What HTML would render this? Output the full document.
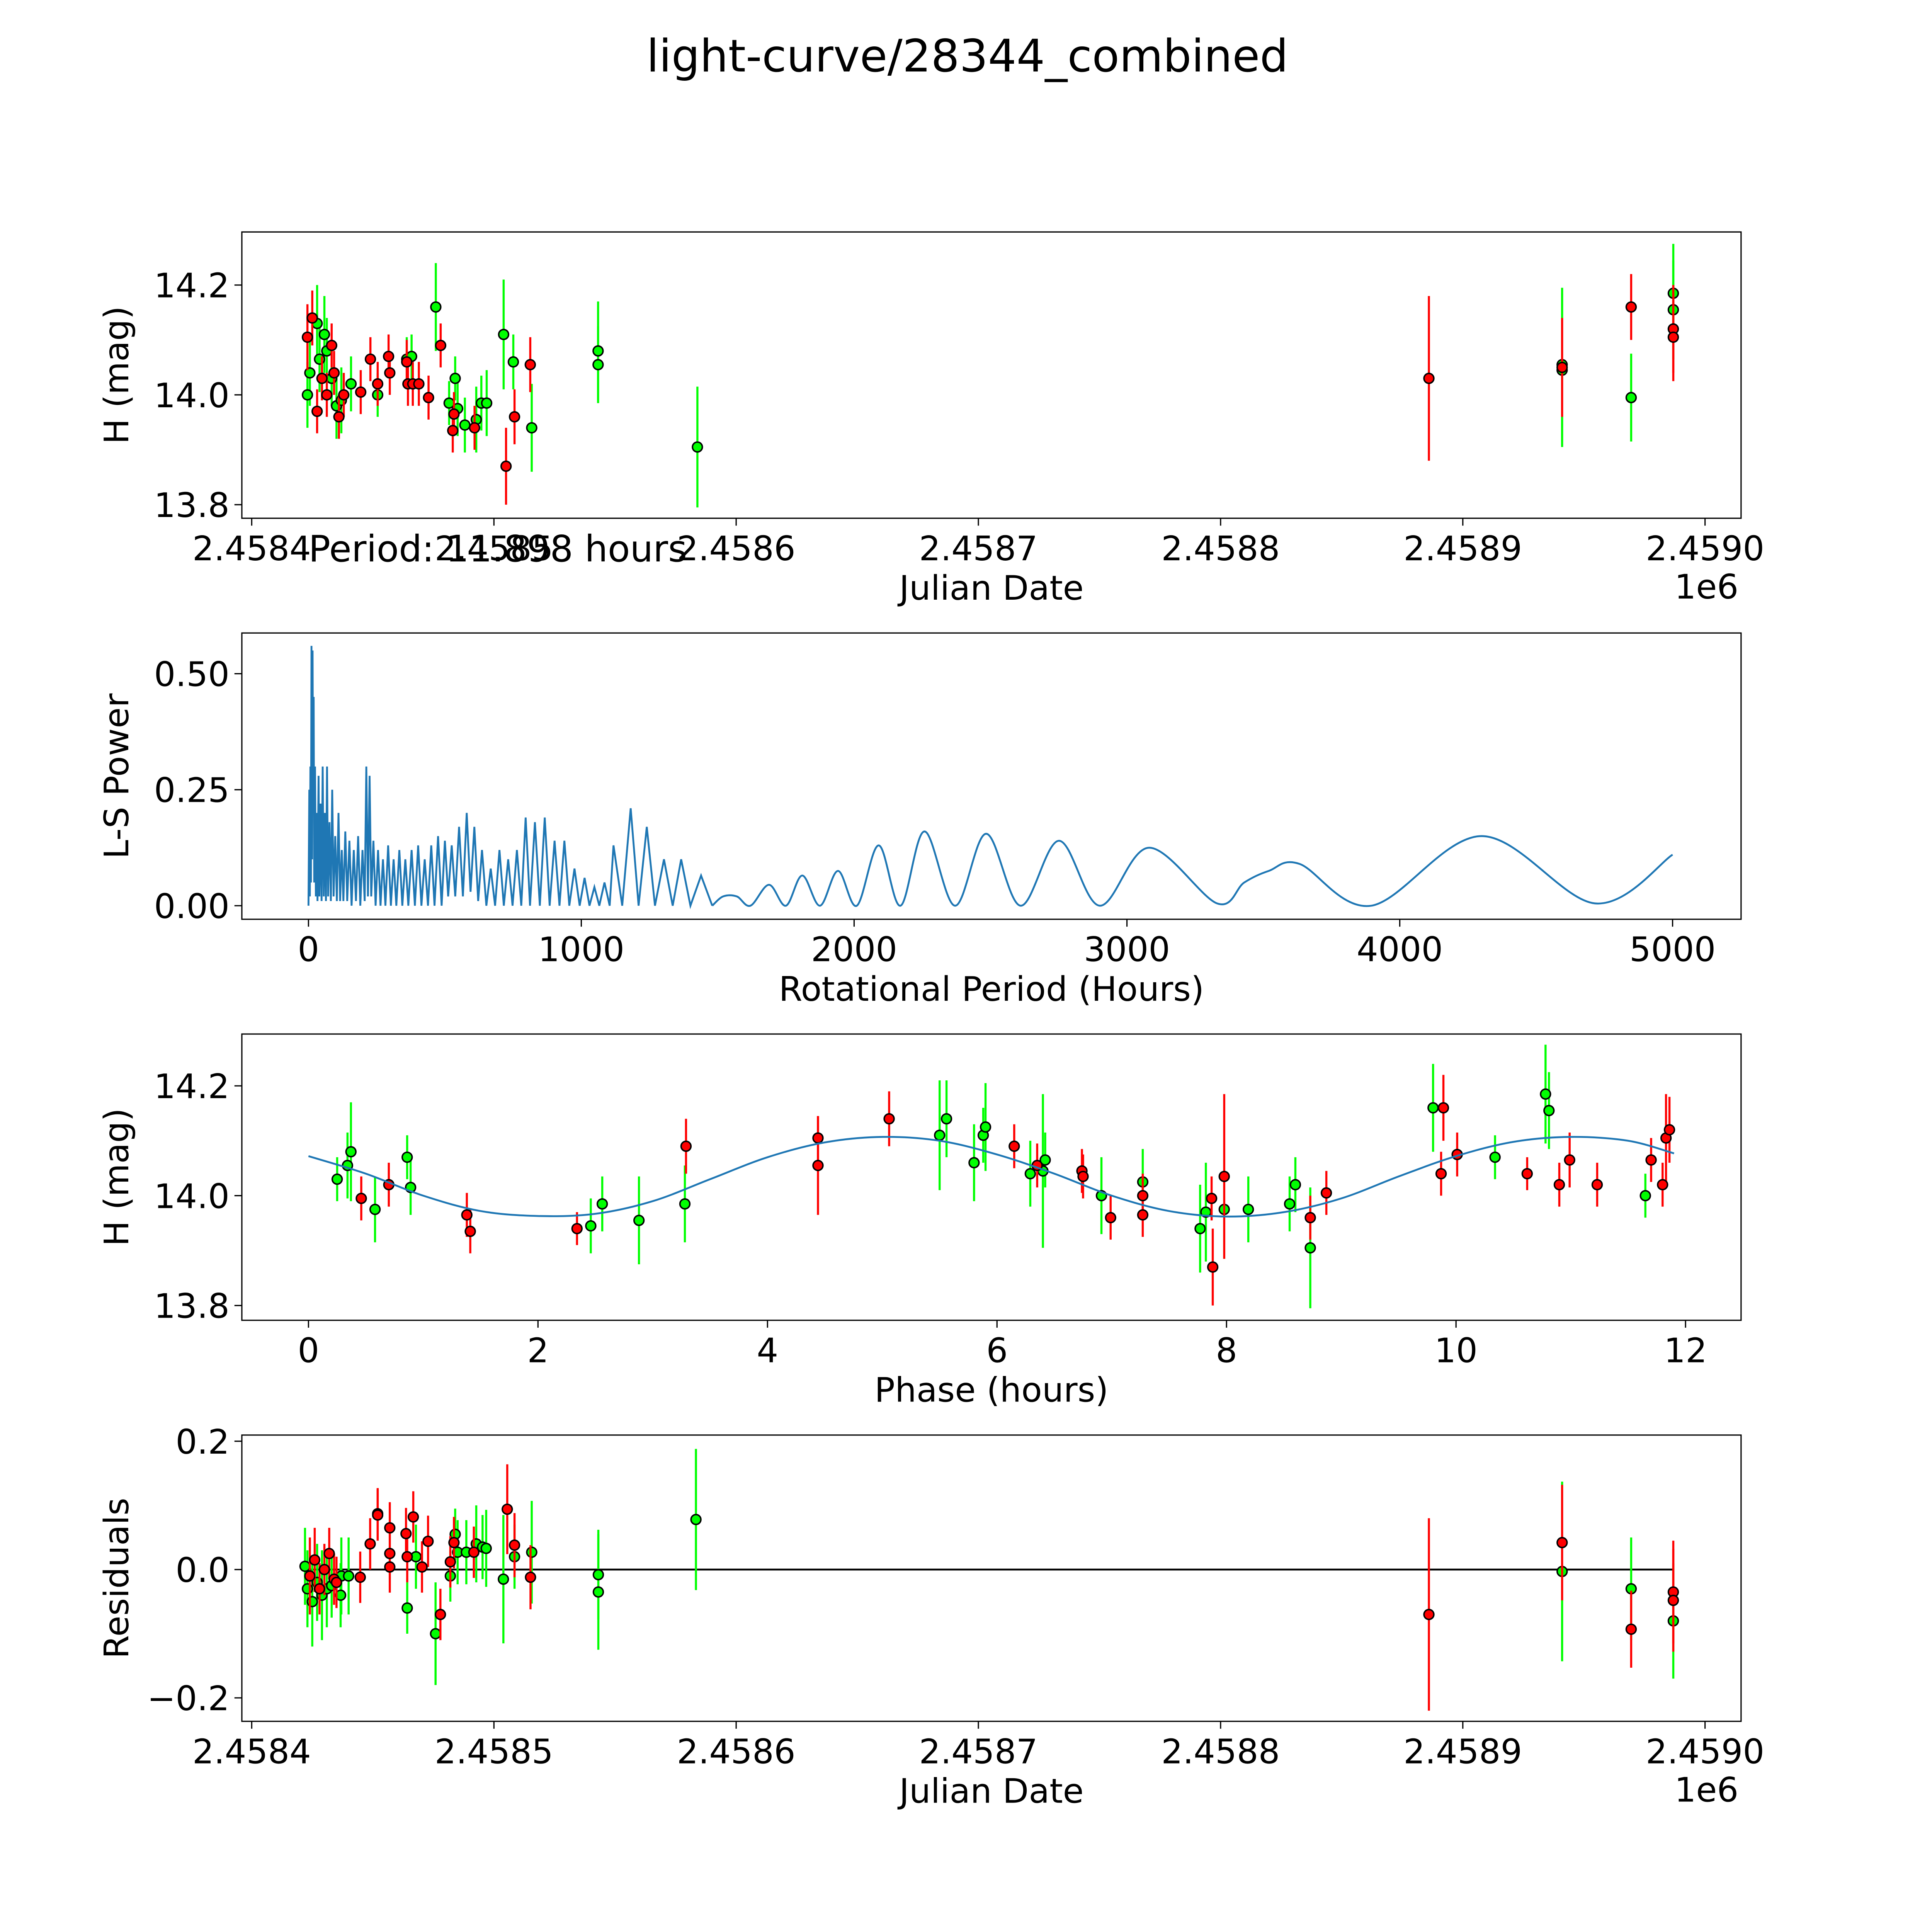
<!DOCTYPE html>
<html><head><meta charset="utf-8"><style>
html,body{margin:0;padding:0;background:#fff;width:5400px;height:5400px;overflow:hidden;}
svg{display:block;}
text{font-family:"DejaVu Sans","Liberation Sans",sans-serif;fill:#000;}
</style></head>
<body>
<svg id="chart" width="5400" height="5400" viewBox="0 0 1691 1691" xmlns="http://www.w3.org/2000/svg">
<text x="784" y="58" font-size="36.3" text-anchor="middle">light-curve/28344_combined</text>
<g id="p1"></g>
<g id="p2"></g>
<g id="p3"></g>
<g id="p4"></g>
</svg>
<script>
// ---- data: light curve (days since 2458400) ----
const lcGreenT = [23,24,27,28,30,31,33,35,37,41,52,64,66,76,81.5,84,85,88,92.7,94.8,97,104,108,115.6,143,143,184,541,541,569.5,586.9,586.9];
const lcGreenM = [14.00,14.04,14.13,14.065,14.11,14.08,14.03,13.98,13.99,14.02,14.00,14.065,14.07,14.16,13.985,14.03,13.975,13.945,13.955,13.985,13.985,14.11,14.06,13.94,14.08,14.055,13.905,14.045,14.055,13.995,14.185,14.155];
const lcGreenE = [0.06,0.06,0.07,0.06,0.07,0.06,0.05,0.06,0.06,0.05,0.04,0.04,0.04,0.08,0.04,0.04,0.05,0.05,0.06,0.05,0.06,0.10,0.05,0.08,0.09,0.07,0.11,0.14,0.14,0.08,0.09,0.09];
const lcRedT = [23,25,27,29,31,33,34,36,38,45,49,52,56.5,57,64,64.5,66.5,69,73,78,83,83.5,92,105,108.5,115,486,541,569.5,586.9,586.9];
const lcRedM = [14.105,14.14,13.97,14.03,14.0,14.09,14.04,13.96,14.0,14.005,14.065,14.02,14.07,14.04,14.06,14.02,14.02,14.02,13.995,14.09,13.935,13.965,13.94,13.87,13.96,14.055,14.03,14.05,14.16,14.12,14.105];
const lcRedE = [0.06,0.05,0.04,0.04,0.04,0.04,0.04,0.04,0.04,0.04,0.04,0.04,0.04,0.04,0.04,0.04,0.04,0.04,0.04,0.04,0.04,0.04,0.04,0.07,0.05,0.05,0.15,0.09,0.06,0.08,0.08];
// ---- periodogram ----
const lsPeriods = [0,3,5,7,9,11,13,15,17,19,21,24,27,30,33,37,40,44,48,52,56,60,64,68,72,77,82,87,92,98,104,110,116,122,128,135,142,150,158,166,174,182,190,198,206,212,218,224,230,238,246,255,264,273,282,292,302,312,322,333,344,355,366,378,390,402,414,426,438,450,462,475,488,500,512,525,538,552,566,580,594,608,622,636,652,668,684,700,716,732,748,764,780,796,812,830,848,866,884,902,920,938,956,975,994,1012,1030,1048,1066,1085,1104,1118,1150,1181,1210,1240,1270,1303,1335,1366,1400,1439,1480];
const lsPowers = [0,0.25,0.02,0.3,0.05,0.56,0.1,0.55,0.2,0.45,0.05,0.3,0.02,0.2,0.01,0.28,0.02,0.22,0.01,0.3,0.02,0.2,0.01,0.3,0.02,0.18,0.01,0.25,0.02,0.15,0.01,0.2,0.01,0.12,0.01,0.16,0.01,0.14,0,0.12,0.01,0.15,0,0.12,0.01,0.3,0.02,0.28,0.02,0.14,0,0.12,0,0.1,0,0.13,0,0.1,0,0.12,0,0.1,0,0.12,0,0.13,0,0.1,0,0.13,0,0.15,0,0.14,0.02,0.13,0.02,0.17,0.02,0.2,0.03,0.17,0.01,0.12,0,0.08,0,0.12,0,0.1,0,0.12,0,0.19,0,0.18,0,0.19,0,0.14,0,0.14,0,0.08,0,0.06,0,0.04,0,0.05,0,0.13,0,0.21,0,0.17,0,0.1,0,0.1,0,0.065,0];
const lsSmoothP = [1480,1520,1570,1620,1688,1750,1810,1875,1941,2010,2090,2170,2258,2370,2484,2610,2751,2900,3081,3330,3430,3520,3633,3896,4299,4715,5000];
const lsSmoothV = [0,0.02,0.02,0,0.045,0,0.065,0,0.075,0,0.13,0,0.16,0,0.155,0,0.14,0,0.125,0.005,0.05,0.075,0.09,0,0.15,0.005,0.11];
// ---- phase folded ----
const phGreenX = [0.25,0.34,0.37,0.58,0.86,0.89,2.56,2.46,2.88,3.28,5.5,5.56,5.8,5.88,5.9,6.29,6.4,6.42,6.91,7.27,7.77,7.82,7.98,8.19,8.55,8.6,8.73,9.8,10.34,10.78,10.81,11.65];
const phGreenM = [14.03,14.055,14.08,13.975,14.07,14.015,13.985,13.945,13.955,13.985,14.11,14.14,14.06,14.11,14.125,14.04,14.045,14.065,14.0,14.025,13.94,13.97,13.975,13.975,13.985,14.02,13.905,14.16,14.07,14.185,14.155,14.0];
const phGreenE = [0.04,0.06,0.09,0.06,0.04,0.05,0.05,0.05,0.08,0.07,0.1,0.07,0.07,0.05,0.08,0.06,0.14,0.05,0.07,0.06,0.08,0.09,0.09,0.06,0.05,0.05,0.11,0.08,0.04,0.09,0.07,0.04];
const phRedX = [0.46,0.7,1.38,1.41,2.34,3.29,4.44,4.44,5.06,6.15,6.35,6.74,6.75,6.99,7.27,7.27,7.87,7.88,7.98,8.73,8.87,9.87,9.89,10.01,10.62,10.9,10.99,11.23,11.7,11.8,11.83,11.86];
const phRedM = [13.995,14.02,13.965,13.935,13.94,14.09,14.105,14.055,14.14,14.09,14.055,14.045,14.035,13.96,14.0,13.965,13.995,13.87,14.035,13.96,14.005,14.04,14.16,14.075,14.04,14.02,14.065,14.02,14.065,14.02,14.105,14.12];
const phRedE = [0.04,0.04,0.04,0.04,0.03,0.05,0.04,0.09,0.05,0.04,0.04,0.04,0.04,0.04,0.04,0.04,0.04,0.07,0.15,0.04,0.04,0.04,0.06,0.04,0.03,0.04,0.05,0.04,0.04,0.04,0.08,0.06];
const fitPhase = [0,0.5,1,1.5,2,2.5,3,3.5,4,4.5,5,5.5,6,6.5,7,7.5,8,8.5,9,9.5,10,10.5,11,11.5,11.9];
const fitMag = [14.072,14.04,14.0,13.972,13.963,13.967,13.99,14.03,14.07,14.097,14.107,14.1,14.075,14.04,14.0,13.972,13.962,13.97,13.995,14.035,14.072,14.098,14.107,14.1,14.077];
// ---- residuals ----
const resGreenT = [22,23,25,27,29,31,33,37,40,36.7,64.2,67.8,75.9,82,84,85,88.6,92.7,95.3,96.8,103.9,108.5,115.6,143.1,143.1,183.4,541,569.5,586.9];
const resGreenR = [0.005,-0.03,-0.05,-0.02,-0.04,-0.03,-0.025,-0.01,-0.01,-0.04,-0.06,0.02,-0.1,-0.01,0.055,0.027,0.027,0.04,0.035,0.033,-0.015,0.02,0.027,-0.008,-0.035,0.078,-0.003,-0.03,-0.08];
const resGreenE = [0.06,0.06,0.07,0.06,0.07,0.06,0.05,0.06,0.06,0.05,0.04,0.05,0.08,0.04,0.04,0.05,0.05,0.06,0.05,0.06,0.10,0.05,0.08,0.07,0.09,0.11,0.14,0.08,0.09];
const resRedT = [24,26,28,30,32,34,35,44.8,48.9,52,52,57,57,57,63.7,64.2,66.7,70.3,72.8,77.9,82,83.5,91.7,105.5,108.5,115.1,486,541,569.5,586.9,586.9];
const resRedR = [-0.01,0.015,-0.03,0.0,0.025,-0.015,-0.02,-0.012,0.04,0.087,0.085,0.065,0.025,0.004,0.056,0.02,0.082,0.004,0.044,-0.07,0.012,0.042,0.027,0.094,0.038,-0.012,-0.07,0.042,-0.093,-0.035,-0.048];
const resRedE = [0.06,0.05,0.04,0.04,0.04,0.04,0.04,0.04,0.04,0.04,0.04,0.04,0.04,0.04,0.04,0.04,0.04,0.04,0.04,0.04,0.04,0.04,0.04,0.07,0.05,0.05,0.15,0.09,0.06,0.08,0.08];

const NS='http://www.w3.org/2000/svg';
const FS=27.5;
function mk(parent,tag,attrs){const e=document.createElementNS(NS,tag);for(const k in attrs)e.setAttribute(k,attrs[k]);parent.appendChild(e);return e;}
function txt(parent,x,y,s,size,anchor,name){const t=mk(parent,'text',{x:x,y:y,'font-size':size,'text-anchor':anchor});t.textContent=s;


return t;}

const L=196,R=1411;
function frame(g,top,bot,xticks,xfn,yticks,yfn,xlab,ylab,ylabX){
  const r=mk(g,'rect',{x:L,y:top,width:R-L,height:bot-top,fill:'none',stroke:'#000','stroke-width':1});
  
  
  xticks.forEach(t=>{const x=xfn(t.v);
    const l=mk(g,'line',{x1:x,x2:x,y1:bot,y2:bot+6,stroke:'#000','stroke-width':1});
    
    
    txt(g,x,bot+34,t.s,FS,'middle','x-tick-label');});
  yticks.forEach(t=>{const y=yfn(t.v);
    const l=mk(g,'line',{x1:L-6,x2:L,y1:y,y2:y,stroke:'#000','stroke-width':1});
    
    
    txt(g,L-10,y+10,t.s,FS,'end','y-tick-label');});
  txt(g,(L+R)/2,bot+66,xlab,FS,'middle','x-axis-title');
  const yl=txt(g,0,0,ylab,FS,'middle','y-axis-title');
  yl.setAttribute('transform','translate('+ylabX+','+((top+bot)/2)+') rotate(-90)');
}
function errpts(g,xs,ys,es,xfn,yfn,col,name){
  xs.forEach((xv,i)=>{const x=xfn(xv);
    const l=mk(g,'line',{x1:x,x2:x,y1:yfn(ys[i]-es[i]),y2:yfn(ys[i]+es[i]),stroke:col,'stroke-width':1.7});
    
    });
  xs.forEach((xv,i)=>{
    const c=mk(g,'circle',{cx:xfn(xv),cy:yfn(ys[i]),r:4,fill:col,stroke:'#000','stroke-width':1.2});
    
    });
}
const jdX=t=>204+t*1.963;
const jdTicks=[0,100,200,300,400,500,600].map((v,i)=>({v:v,s:'2.458'+(4+i<10?(4+i):'')}));
jdTicks[6].s='2.4590';
const magTicks=[{v:14.2,s:'14.2'},{v:14.0,s:'14.0'},{v:13.8,s:'13.8'}];

// panel 1
const g1=document.getElementById('p1');
const y1=m=>320-(m-14.0)*445;
frame(g1,188,420,jdTicks,jdX,magTicks,y1,'Julian Date','H (mag)',104);
errpts(g1,lcGreenT,lcGreenM,lcGreenE,jdX,y1,'#00ff00','green-obs');
errpts(g1,lcRedT,lcRedM,lcRedE,jdX,y1,'#ff0000','red-obs');
txt(g1,1383,485,'1e6',FS,'middle','x-offset-label');
txt(g1,250,455,'Period: 11.898 hours',29.5,'start','period-annotation');

// panel 2
const g2=document.getElementById('p2');
const px=p=>250+p*0.2211, py=v=>734-v*376;
frame(g2,513,745,[0,1000,2000,3000,4000,5000].map(v=>({v:v,s:String(v)})),px,
  [{v:0,s:'0.00'},{v:0.25,s:'0.25'},{v:0.5,s:'0.50'}],py,'Rotational Period (Hours)','L-S Power',104);
const pl=mk(g2,'polyline',{points:lsPeriods.map((p,i)=>px(p)+','+py(lsPowers[i])).join(' '),fill:'none',stroke:'#1f77b4','stroke-width':1.5});


function spline(xs,ys){let d='M'+xs[0]+','+ys[0];for(let i=0;i<xs.length-1;i++){const i0=Math.max(0,i-1),i3=Math.min(xs.length-1,i+2);
 const c1x=xs[i]+(xs[i+1]-xs[i0])/6,c1y=ys[i]+(ys[i+1]-ys[i0])/6,c2x=xs[i+1]-(xs[i3]-xs[i])/6,c2y=ys[i+1]-(ys[i3]-ys[i])/6;
 d+=' C'+c1x+','+c1y+' '+c2x+','+c2y+' '+xs[i+1]+','+ys[i+1];}return d;}
const sp=mk(g2,'path',{d:spline(lsSmoothP.map(px),lsSmoothV.map(py)),fill:'none',stroke:'#1f77b4','stroke-width':1.5});



// panel 3
const g3=document.getElementById('p3');
const phx=p=>250+p*93, y3=m=>969-(m-14.0)*445;
frame(g3,838,1070,[0,2,4,6,8,10,12].map(v=>({v:v,s:String(v)})),phx,magTicks,y3,'Phase (hours)','H (mag)',104);
errpts(g3,phGreenX,phGreenM,phGreenE,phx,y3,'#00ff00','green-phase');
errpts(g3,phRedX,phRedM,phRedE,phx,y3,'#ff0000','red-phase');
const fp=mk(g3,'path',{d:spline(fitPhase.map(phx),fitMag.map(y3)),fill:'none',stroke:'#1f77b4','stroke-width':1.5});



// panel 4
const g4=document.getElementById('p4');
const y4=r=>1272-r*520;
frame(g4,1163,1395,jdTicks,jdX,[{v:0.2,s:'0.2'},{v:0,s:'0.0'},{v:-0.2,s:'\u22120.2'}],y4,'Julian Date','Residuals',104);
const zl=mk(g4,'line',{x1:jdX(22),x2:jdX(586.9),y1:y4(0),y2:y4(0),stroke:'#000','stroke-width':1.5});


errpts(g4,resGreenT,resGreenR,resGreenE,jdX,y4,'#00ff00','green-resid');
errpts(g4,resRedT,resRedR,resRedE,jdX,y4,'#ff0000','red-resid');
txt(g4,1383,1460,'1e6',FS,'middle','x-offset-label');
</script>
</body></html>
